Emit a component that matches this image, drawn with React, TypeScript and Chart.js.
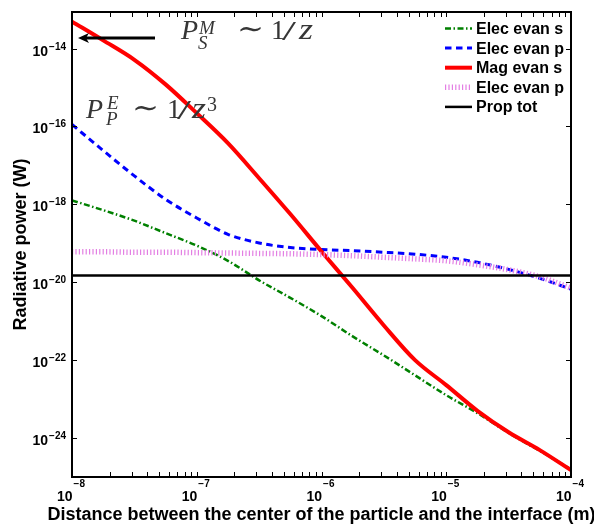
import React, { useEffect, useRef } from "react";
import { Chart, registerables } from "chart.js";

Chart.register(...registerables);

// Distance (m), quarter-decade samples
const distances = [
  1e-8, 1.778e-8, 3.162e-8, 5.623e-8, 1e-7, 1.778e-7, 3.162e-7, 5.623e-7, 1e-6,
  1.778e-6, 3.162e-6, 5.623e-6, 1e-5, 1.778e-5, 3.162e-5, 5.623e-5, 1e-4,
];
// Radiative power (W)
const elecEvanS = [
  1.26e-18, 7.08e-19, 3.8e-19, 1.82e-19, 8.71e-20, 3.55e-20, 1.12e-20, 3.98e-21, 1.35e-21,
  4.07e-22, 1.32e-22, 4.07e-23, 1.26e-23, 4.37e-24, 1.35e-24, 4.68e-25, 1.58e-25,
];
const elecEvanP = [
  1.12e-16, 2.4e-17, 5.37e-18, 1.35e-18, 4.47e-19, 1.7e-19, 1.02e-19, 7.76e-20, 6.92e-20,
  6.46e-20, 5.89e-20, 5.25e-20, 4.37e-20, 3.24e-20, 2.14e-20, 1.26e-20, 6.61e-21,
];
const magEvanS = [
  4.9e-14, 1.62e-14, 5.13e-15, 1.2e-15, 2.19e-16, 3.72e-17, 4.68e-18, 5.62e-19, 6.17e-20,
  7.08e-21, 7.76e-22, 1.0e-22, 2.29e-23, 5.01e-24, 1.41e-24, 4.9e-25, 1.5e-25,
];
const elecEvanPDotted = [
  6.03e-20, 6.03e-20, 5.89e-20, 5.89e-20, 5.75e-20, 5.62e-20, 5.5e-20, 5.37e-20, 5.13e-20,
  4.79e-20, 4.37e-20, 3.98e-20, 3.55e-20, 2.82e-20, 2.09e-20, 1.38e-20, 7.08e-21,
];
const propTotDistances = [1e-8, 1e-4];
const propTot = [1.48e-20, 1.48e-20];

const legendLabels = ["Elec evan s", "Elec evan p", "Mag evan s", "Elec evan p", "Prop tot"];
const xTickExponents = [-8, -7, -6, -5, -4];
const yTickExponents = [-14, -16, -18, -20, -22, -24];
const X_MIN = 1e-8;
const X_MAX = 1e-4;
const Y_MIN = 1.462e-25;
const Y_MAX = 8.65e-14;

const xTitle = "Distance between the center of the particle and the interface (m)";
const yTitle = "Radiative power (W)";

const SANS = "'Liberation Sans', Arial, Helvetica, sans-serif";
const SERIF = "'Liberation Serif', 'Times New Roman', 'DejaVu Serif', serif";
const MINUS = "\u2212";

const pts = (xs: number[], ys: number[]) => xs.map((x, i) => ({ x, y: ys[i] }));

const decorPlugin = {
  id: "matlabDecor",
  afterDatasetsDraw(chart: any) {
    const { ctx, chartArea: a, scales } = chart;
    const xs = scales.x;
    const ys = scales.y;
    ctx.save();
    ctx.strokeStyle = "#000";
    ctx.lineWidth = 1;
    const tl = 5;
    ctx.beginPath();
    for (let d = xTickExponents[0]; d <= xTickExponents[xTickExponents.length - 1]; d++) {
      for (let k = 1; k <= 9; k++) {
        const v = k * Math.pow(10, d);
        if (v > X_MAX * 1.0001) break;
        const px = Math.round(xs.getPixelForValue(v)) + 0.5;
        ctx.moveTo(px, a.bottom);
        ctx.lineTo(px, a.bottom - tl);
        ctx.moveTo(px, a.top);
        ctx.lineTo(px, a.top + tl);
      }
    }
    yTickExponents.forEach((e) => {
      const py = Math.round(ys.getPixelForValue(Math.pow(10, e))) + 0.5;
      ctx.moveTo(a.left, py);
      ctx.lineTo(a.left + tl, py);
      ctx.moveTo(a.right, py);
      ctx.lineTo(a.right - tl, py);
    });
    ctx.stroke();
    ctx.lineWidth = 2;
    ctx.strokeRect(a.left, a.top, a.right - a.left, a.bottom - a.top);
    ctx.restore();
  },
  afterDraw(chart: any) {
    const { ctx, chartArea: a, scales } = chart;
    const xs = scales.x;
    const ys = scales.y;
    ctx.save();
    ctx.fillStyle = "#000";
    ctx.textAlign = "left";
    ctx.textBaseline = "alphabetic";
    const baseFont = `bold 14px ${SANS}`;
    const expFont = `bold 10px ${SANS}`;

    // x tick labels
    xTickExponents.forEach((e) => {
      const px = xs.getPixelForValue(Math.pow(10, e));
      const expStr = MINUS + String(Math.abs(e));
      ctx.font = baseFont;
      const w1 = ctx.measureText("10").width;
      ctx.font = expFont;
      const w2 = ctx.measureText(expStr).width;
      const start = px - (w1 + w2 + 1) / 2 - 1;
      ctx.font = baseFont;
      ctx.fillText("10", start, a.bottom + 24);
      ctx.font = expFont;
      ctx.fillText(expStr, start + w1 + 1, a.bottom + 10);
    });

    // y tick labels
    yTickExponents.forEach((e) => {
      const py = ys.getPixelForValue(Math.pow(10, e));
      const expStr = MINUS + String(Math.abs(e));
      ctx.font = expFont;
      const w2 = ctx.measureText(expStr).width;
      ctx.font = baseFont;
      const w1 = ctx.measureText("10").width;
      const right = a.left - 6;
      ctx.fillText("10", right - w2 - 1 - w1, py + 7);
      ctx.font = expFont;
      ctx.fillText(expStr, right - w2, py + 1);
    });

    // axis titles
    ctx.font = `bold 18px ${SANS}`;
    ctx.textAlign = "center";
    ctx.textBaseline = "middle";
    ctx.fillText(xTitle, (a.left + a.right) / 2, a.bottom + 38);
    ctx.save();
    ctx.translate(21, (a.top + a.bottom) / 2);
    ctx.rotate(-Math.PI / 2);
    ctx.fillText(yTitle, 0, 0);
    ctx.restore();

    // legend
    const lx0 = a.right - 126;
    const lx1 = a.right - 99;
    const tx = a.right - 95;
    chart.data.datasets.forEach((ds: any, i: number) => {
      const y = a.top + 16.5 + i * 19.6;
      ctx.save();
      ctx.strokeStyle = ds.borderColor;
      ctx.lineWidth = ds.borderWidth;
      ctx.setLineDash(ds.borderDash || []);
      ctx.beginPath();
      ctx.moveTo(lx0, y);
      ctx.lineTo(lx1, y);
      ctx.stroke();
      ctx.restore();
      ctx.font = `bold 16px ${SANS}`;
      ctx.textAlign = "left";
      ctx.textBaseline = "middle";
      ctx.fillStyle = "#000";
      ctx.fillText(legendLabels[i], tx, y + 1);
    });

    // annotations (LaTeX-like)
    const gray = "#363636";
    ctx.fillStyle = gray;
    ctx.textBaseline = "alphabetic";
    ctx.textAlign = "left";
    const big = 28;
    const small = 19;
    const run = (x: number, y: number, text: string, size: number, italic: boolean, sx = 1) => {
      ctx.save();
      ctx.font = `${italic ? "italic " : ""}${size}px ${SERIF}`;
      ctx.translate(x, y);
      ctx.scale(sx, 1);
      ctx.fillText(text, 0, 0);
      ctx.restore();
    };
    // P_S^M ~ 1/z
    {
      const bx = a.left + 109;
      const by = a.top + 26.5;
      run(bx, by, "P", big, true);
      run(bx + 18, by - 5, "M", small, true);
      run(bx + 17, by + 10, "S", small, true);
      run(bx + 56, by - 1, "\u223C", big, false, 1.15);
      run(bx + 90, by, "1", big, false);
      run(bx + 101, by + 1, "/", big, false, 1.8);
      run(bx + 118, by, "z", big + 2, true, 1.2);
    }
    // P_P^E ~ 1/z^3
    {
      const bx = a.left + 14;
      const by = a.top + 105.5;
      run(bx, by, "P", big, true);
      run(bx + 21, by - 9, "E", small, true);
      run(bx + 20, by + 7.5, "P", small, true);
      run(bx + 46, by - 1, "\u223C", big, false, 1.15);
      run(bx + 81, by, "1", big, false);
      run(bx + 91, by + 1, "/", big, false, 1.8);
      run(bx + 106, by, "z", big + 2, true, 1.2);
      run(bx + 121, by - 7, "3", small + 1, false);
    }
    // arrow
    ctx.strokeStyle = "#000";
    ctx.fillStyle = "#000";
    ctx.lineWidth = 3;
    const ay = a.top + 26;
    ctx.beginPath();
    ctx.moveTo(a.left + 83, ay);
    ctx.lineTo(a.left + 14, ay);
    ctx.stroke();
    ctx.beginPath();
    ctx.moveTo(a.left + 6, ay);
    ctx.lineTo(a.left + 17, ay - 5);
    ctx.lineTo(a.left + 14, ay);
    ctx.lineTo(a.left + 17, ay + 5);
    ctx.closePath();
    ctx.fill();
    ctx.restore();
  },
};

export default function App() {
  const ref = useRef<HTMLCanvasElement>(null);
  useEffect(() => {
    const canvas = ref.current;
    if (!canvas) return;
    const common = { pointRadius: 0, pointHoverRadius: 0, fill: false, cubicInterpolationMode: "monotone" as const };
    const chart = new Chart(canvas, {
      type: "line",
      data: {
        datasets: [
          {
            ...common,
            label: legendLabels[0],
            data: pts(distances, elecEvanS),
            borderColor: "#008000",
            borderWidth: 2.5,
            borderDash: [6, 2.5, 1.5, 2.5],
            order: 5,
          },
          {
            ...common,
            label: legendLabels[1],
            data: pts(distances, elecEvanP),
            borderColor: "#0000ff",
            borderWidth: 3,
            borderDash: [6.5, 4.5],
            order: 4,
          },
          {
            ...common,
            label: legendLabels[2],
            data: pts(distances, magEvanS),
            borderColor: "#ff0000",
            borderWidth: 4,
            order: 3,
          },
          {
            ...common,
            label: legendLabels[3],
            data: pts(distances, elecEvanPDotted),
            borderColor: "#e37fe3",
            borderWidth: 5.5,
            borderDash: [1.2, 2.2],
            order: 2,
          },
          {
            ...common,
            label: legendLabels[4],
            data: pts(propTotDistances, propTot),
            borderColor: "#000000",
            borderWidth: 2.5,
            order: 1,
          },
        ],
      },
      options: {
        animation: false,
        responsive: false,
        devicePixelRatio: 1,
        events: [],
        layout: { padding: { left: 72, top: 12, right: 23, bottom: 47 } },
        scales: {
          x: { type: "logarithmic", min: X_MIN, max: X_MAX, display: false },
          y: { type: "logarithmic", min: Y_MIN, max: Y_MAX, display: false },
        },
        plugins: { legend: { display: false }, tooltip: { enabled: false } },
      },
      plugins: [decorPlugin],
    });
    return () => chart.destroy();
  }, []);
  return (
    <div style={{ position: "fixed", left: 0, top: 0, width: 594, height: 524, background: "#fff" }}>
      <canvas ref={ref} width={594} height={524} style={{ display: "block", width: 594, height: 524 }} />
    </div>
  );
}
